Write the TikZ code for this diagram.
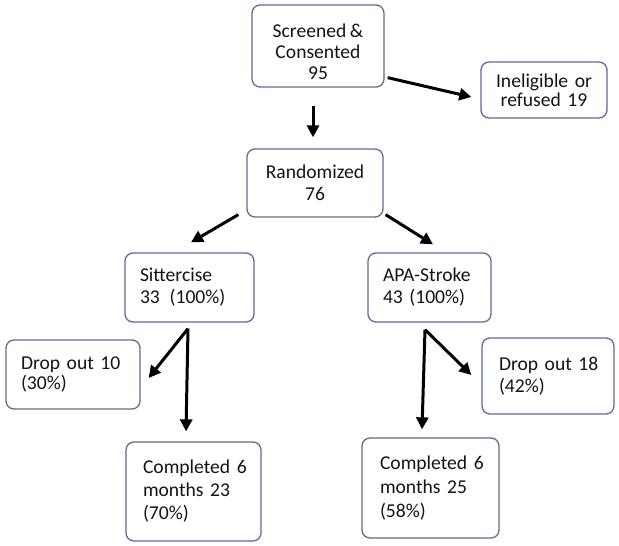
\documentclass[tikz,border=0pt]{standalone}
\usepackage{fontspec}
\setmainfont{Carlito}[WordSpace=0.8]
\usetikzlibrary{arrows.meta,calc}
\definecolor{boxline}{RGB}{98,108,150}
\definecolor{txt}{RGB}{20,20,20}
\begin{document}
\begin{tikzpicture}[x=1pt,y=-1pt,
  box/.style={draw=boxline, line width=1.3pt, rounded corners=8pt, fill=white,
    inner ysep=0pt, font=\fontsize{19.6}{22}\selectfont, text=txt},
  arr/.style={line width=3pt, -{Triangle[length=12pt,width=12pt]}}]
\useasboundingbox (0,0) rectangle (619,546);
\fill[white] (0,0) rectangle (619,546);
% boxes
\node[box, minimum width=132, minimum height=82,
  label={[font=\fontsize{19.6}{21}\selectfont, text=txt, align=center, yshift=-6pt]center:Screened~\&\\Consented\\95}] (scr) at (318,46) {};
\node[box, minimum width=126, minimum height=56, text width=110, inner xsep=8pt, align=center,
  font=\fontsize{19.6}{19}\selectfont] (inel) at (544,90) {Ineligible~or\\refused~19};
\node[box, minimum width=136, minimum height=68, text width=116, inner xsep=10pt, align=center] (rand) at (315,183) {Randomized\\76};
\node[box, minimum width=129, minimum height=69, text width=99, inner xsep=15pt, align=left] (sit) at (189.5,287.5) {Sittercise\\33~\,(100\%)};
\node[box, minimum width=123, minimum height=69, text width=93, inner xsep=15pt, align=left] (apa) at (429.5,287.5) {APA-Stroke\\43~(100\%)};
\node[box, minimum width=134, minimum height=69, text width=104, inner xsep=15pt, align=left,
  font=\fontsize{19.6}{20}\selectfont] (do10) at (73,374.5) {Drop~out~10\\(30\%)};
\node[box, minimum width=135, minimum height=99, text width=101, inner xsep=17pt, align=left,
  font=\fontsize{19.6}{23}\selectfont] (c23) at (193.5,491.5) {Completed~6\\months~23\\(70\%)};
\node[box, minimum width=132, minimum height=76, text width=98, inner xsep=17pt, align=left] (do18) at (548,376) {Drop~out~18\\(42\%)};
\node[box, minimum width=137, minimum height=100, text width=101, inner xsep=18pt, align=left,
  font=\fontsize{19.6}{24}\selectfont] (c25) at (430.5,488) {Completed~6\\months~25\\(58\%)};
% connectors
\draw[arr] ($(scr.south east)+(3,-10)$) -- ($(inel.west)+(-9,7)$);
\draw[arr] ($(scr.south)+(-5,18)$) -- ($(rand.north)+(-2,-11)$);
\draw[arr] ($(rand.south west)+(-8,-3)$) -- ($(sit.north)+(1.5,-10)$);
\draw[arr] ($(rand.south east)+(2,-3)$) -- ($(apa.north)+(3.5,-8)$);
\draw[arr] ($(sit.south)+(-1.5,6)$) -- ($(do10.east)+(8,3.5)$);
\draw[arr] ($(sit.south)+(-1.5,6)$) -- ($(c23.north)+(-7.5,-10)$);
\draw[arr] ($(apa.south)+(-4.5,7)$) -- ($(do18.west)+(-10,-1)$);
\draw[arr] ($(apa.south)+(-4.5,7)$) -- ($(c25.north)+(-8.5,-8)$);
\end{tikzpicture}
\end{document}
